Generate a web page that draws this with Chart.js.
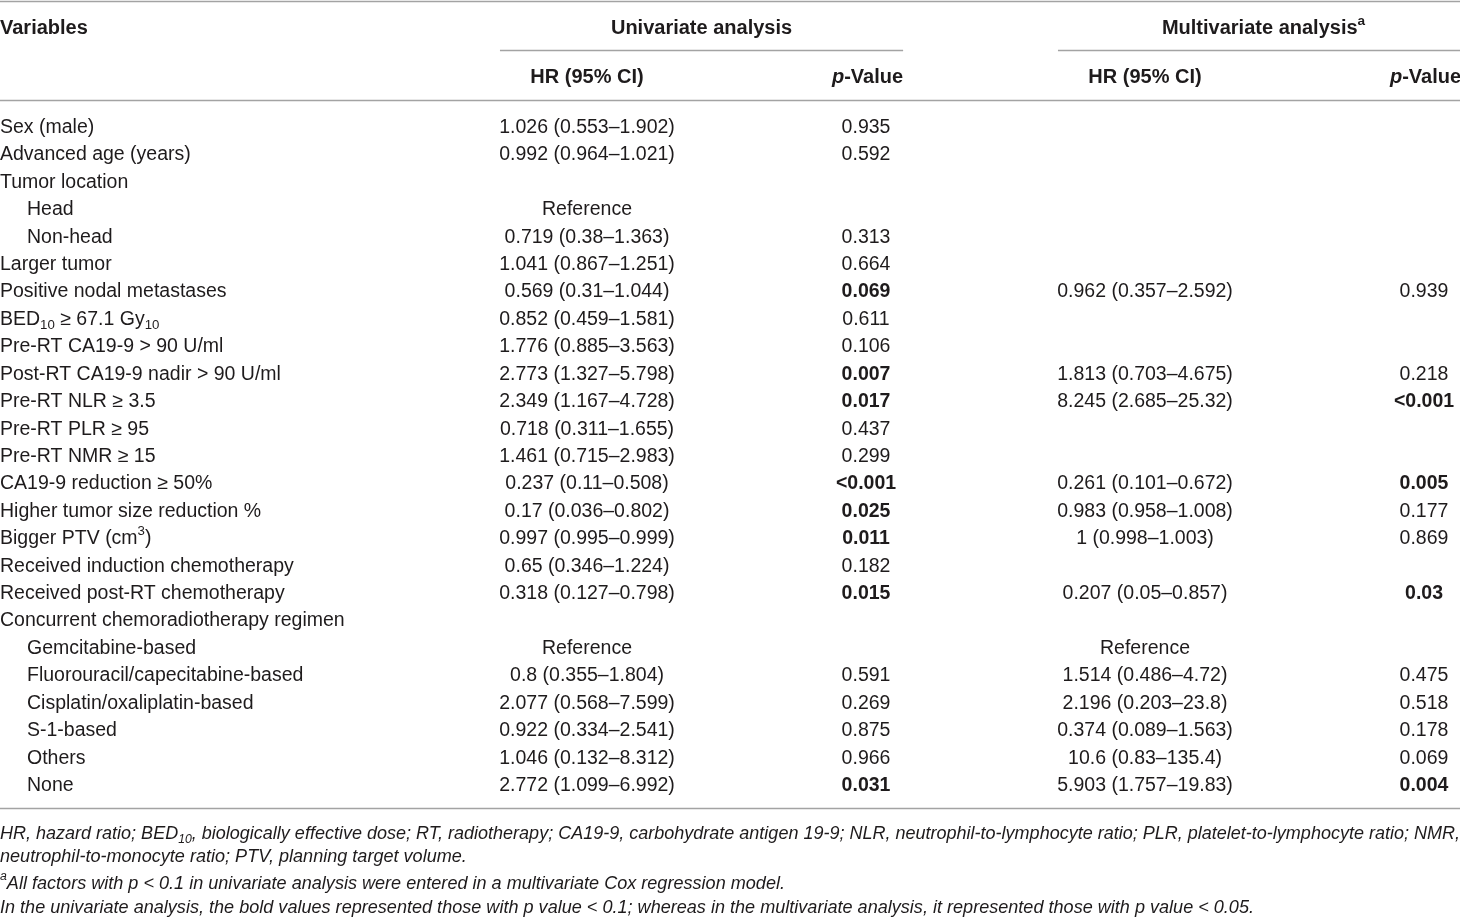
<!DOCTYPE html>
<html>
<head>
<meta charset="utf-8">
<script src="https://cdn.jsdelivr.net/npm/chart.js@4.4.1/dist/chart.umd.min.js"></script>
<style>
  html, body { margin: 0; padding: 0; background: #fff; }
  #wrap { width: 1460px; height: 917px; }
</style>
</head>
<body>
<div id="wrap"><canvas id="tbl" width="1460" height="917"></canvas></div>
<script>
// --- TABLE DATA ---
const variables = [
    'Sex (male)', 'Advanced age (years)', 'Tumor location', 'Head', 'Non-head',
    'Larger tumor', 'Positive nodal metastases', 'BED_{10} ≥ 67.1 Gy_{10}',
    'Pre-RT CA19-9 > 90 U/ml', 'Post-RT CA19-9 nadir > 90 U/ml', 'Pre-RT NLR ≥ 3.5',
    'Pre-RT PLR ≥ 95', 'Pre-RT NMR ≥ 15', 'CA19-9 reduction ≥ 50%',
    'Higher tumor size reduction %', 'Bigger PTV (cm^{3})', 'Received induction chemotherapy',
    'Received post-RT chemotherapy', 'Concurrent chemoradiotherapy regimen',
    'Gemcitabine-based', 'Fluorouracil/capecitabine-based', 'Cisplatin/oxaliplatin-based',
    'S-1-based', 'Others', 'None'
];
const indentedRows = [3, 4, 19, 20, 21, 22, 23, 24];

const uniHR = [
    '1.026 (0.553–1.902)', '0.992 (0.964–1.021)', '', 'Reference', '0.719 (0.38–1.363)',
    '1.041 (0.867–1.251)', '0.569 (0.31–1.044)', '0.852 (0.459–1.581)', '1.776 (0.885–3.563)',
    '2.773 (1.327–5.798)', '2.349 (1.167–4.728)', '0.718 (0.311–1.655)', '1.461 (0.715–2.983)',
    '0.237 (0.11–0.508)', '0.17 (0.036–0.802)', '0.997 (0.995–0.999)', '0.65 (0.346–1.224)',
    '0.318 (0.127–0.798)', '', 'Reference', '0.8 (0.355–1.804)', '2.077 (0.568–7.599)',
    '0.922 (0.334–2.541)', '1.046 (0.132–8.312)', '2.772 (1.099–6.992)'
];
const uniP = [
    '0.935', '0.592', '', '', '0.313', '0.664', '0.069', '0.611', '0.106', '0.007', '0.017',
    '0.437', '0.299', '<0.001', '0.025', '0.011', '0.182', '0.015', '', '', '0.591', '0.269',
    '0.875', '0.966', '0.031'
];
const uniBold = [6, 9, 10, 13, 14, 15, 17, 24];

const multiHR = [
    '', '', '', '', '', '', '0.962 (0.357–2.592)', '', '', '1.813 (0.703–4.675)',
    '8.245 (2.685–25.32)', '', '', '0.261 (0.101–0.672)', '0.983 (0.958–1.008)',
    '1 (0.998–1.003)', '', '0.207 (0.05–0.857)', '', 'Reference', '1.514 (0.486–4.72)',
    '2.196 (0.203–23.8)', '0.374 (0.089–1.563)', '10.6 (0.83–135.4)', '5.903 (1.757–19.83)'
];
const multiP = [
    '', '', '', '', '', '', '0.939', '', '', '0.218', '<0.001', '', '', '0.005', '0.177',
    '0.869', '', '0.03', '', '', '0.475', '0.518', '0.178', '0.069', '0.004'
];
const multiBold = [10, 13, 17, 24];

const groupTitles = ['Univariate analysis', 'Multivariate analysis^{a}'];
const columnTitles = ['HR (95% CI)', '~p~-Value'];

const footnotes = [
    'HR, hazard ratio; BED_{10}, biologically effective dose; RT, radiotherapy; CA19-9, carbohydrate antigen 19-9; NLR, neutrophil-to-lymphocyte ratio; PLR, platelet-to-lymphocyte ratio; NMR,',
    'neutrophil-to-monocyte ratio; PTV, planning target volume.',
    '^{a}All factors with p < 0.1 in univariate analysis were entered in a multivariate Cox regression model.',
    'In the univariate analysis, the bold values represented those with p value < 0.1; whereas in the multivariate analysis, it represented those with p value < 0.05.'
];

// --- LAYOUT (scale units: x = column index, y = row index) ---
const X_MIN = -1.104, X_MAX = 4.129;
const Y_MIN = -4.6, Y_MAX = 28.85;
const Y_GROUP = -3.61, Y_GROUP_RULE = -2.77, Y_HEAD = -1.82, Y_HEAD_RULE = -0.95;
const Y_TOP_RULE = -4.56, Y_BOTTOM_RULE = 24.87;
const Y_NOTES = [25.75, 26.6, 27.57, 28.45];
const FAMILY = '"Liberation Sans", Arial, sans-serif';
const TEXT = '#1e1b1c';
const RULE = '#a3a3a3';
const SIZE = 19.5;
const HEAD_SIZE = 20;
const NUDGE = 1.5; // canvas 'middle' sits a bit high

const cells = (arr, col, bold) => arr
    .map((t, i) => ({ x: col, y: i, t, b: bold ? bold.includes(i) : false }))
    .filter(d => d.t !== '');

// --- RICH TEXT (sub/superscript, italic) ---
const parseRich = (s) => {
    const parts = [];
    const re = /_\{([^}]*)\}|\^\{([^}]*)\}|~([^~]*)~/g;
    let last = 0, m;
    while ((m = re.exec(s))) {
        if (m.index > last) parts.push({ t: s.slice(last, m.index), k: 'n' });
        if (m[1] !== undefined) parts.push({ t: m[1], k: 'sub' });
        else if (m[2] !== undefined) parts.push({ t: m[2], k: 'sup' });
        else parts.push({ t: m[3], k: 'it' });
        last = re.lastIndex;
    }
    if (last < s.length) parts.push({ t: s.slice(last), k: 'n' });
    return parts;
};

const fontOf = (k, base) => {
    const size = (k === 'sub' || k === 'sup') ? base.size * 0.68 : base.size;
    const style = (k === 'it' || base.italic) ? 'italic ' : '';
    return `${style}${base.bold ? 'bold ' : ''}${size}px ${FAMILY}`;
};

const richWidth = (ctx, s, base) => parseRich(s).reduce((w, p) => {
    ctx.font = fontOf(p.k, base);
    return w + ctx.measureText(p.t).width;
}, 0);

const drawRich = (ctx, s, x, y, align, base) => {
    const parts = parseRich(s);
    const w = richWidth(ctx, s, base);
    let cx = align === 'center' ? x - w / 2 : align === 'right' ? x - w : x;
    ctx.textAlign = 'left';
    ctx.textBaseline = 'middle';
    ctx.fillStyle = TEXT;
    parts.forEach(p => {
        ctx.font = fontOf(p.k, base);
        const dy = p.k === 'sub' ? base.size * 0.3 : p.k === 'sup' ? -base.size * 0.36 : 0;
        ctx.fillText(p.t, cx, y + dy + NUDGE);
        cx += ctx.measureText(p.t).width;
    });
};

// --- TABLE PLUGIN ---
const tablePlugin = {
    id: 'tablePlugin',
    beforeDatasetsDraw(chart) {
        const { ctx, chartArea, scales: { x, y } } = chart;
        ctx.save();
        ctx.strokeStyle = RULE;
        ctx.lineWidth = 1.5;
        const hline = (x0, x1, yv) => {
            const py = Math.round(y.getPixelForValue(yv)) + 0.5;
            ctx.beginPath();
            ctx.moveTo(x0, py);
            ctx.lineTo(x1, py);
            ctx.stroke();
        };
        hline(chartArea.left, chartArea.right, Y_TOP_RULE);
        hline(chartArea.left, chartArea.right, Y_HEAD_RULE);
        hline(chartArea.left, chartArea.right, Y_BOTTOM_RULE);
        [1, 3].forEach(c => hline(x.getPixelForValue(c - 0.312), x.getPixelForValue(c + 1.133), Y_GROUP_RULE));
        ctx.restore();
    },
    afterDatasetsDraw(chart) {
        const { ctx, chartArea, scales: { x, y } } = chart;
        ctx.save();
        const bold = { size: HEAD_SIZE, bold: true };

        // headers
        drawRich(ctx, 'Variables', chartArea.left, y.getPixelForValue(Y_GROUP), 'left', bold);
        [1, 3].forEach((c, g) => {
            const mid = (x.getPixelForValue(c - 0.312) + x.getPixelForValue(c + 1.133)) / 2;
            drawRich(ctx, groupTitles[g], mid + (g ? 4 : 0), y.getPixelForValue(Y_GROUP), 'center', bold);
            drawRich(ctx, columnTitles[0], x.getPixelForValue(c), y.getPixelForValue(Y_HEAD), 'center', bold);
            drawRich(ctx, columnTitles[1], x.getPixelForValue(c + 1.133), y.getPixelForValue(Y_HEAD), 'right', bold);
        });

        // body cells
        chart.data.datasets.forEach((ds, i) => {
            const meta = chart.getDatasetMeta(i);
            meta.data.forEach((pt, j) => {
                const d = ds.data[j];
                const px = ds.align === 'left' ? chartArea.left + (indentedRows.includes(d.y) ? 27 : 0) : pt.x;
                drawRich(ctx, d.t, px, pt.y, ds.align, { size: SIZE, bold: d.b });
            });
        });

        // footnotes (condensed italic, first line justified)
        const note = { size: 19, italic: true };
        const sx = 1254 / richWidth(ctx, footnotes[3], note);
        footnotes.forEach((s, k) => {
            const w = richWidth(ctx, s, note);
            const scaleX = k === 0 ? (chartArea.right - chartArea.left) / w : sx;
            ctx.save();
            ctx.translate(chartArea.left, y.getPixelForValue(Y_NOTES[k]));
            ctx.scale(scaleX, 1);
            drawRich(ctx, s, 0, 0, 'left', note);
            ctx.restore();
        });
        ctx.restore();
    }
};

const mkSet = (label, data, align) => ({
    label, data, align, pointRadius: 0, pointHoverRadius: 0, showLine: false
});

new Chart(document.getElementById('tbl'), {
    type: 'scatter',
    data: {
        datasets: [
            mkSet('Variables', variables.map((t, i) => ({ x: X_MIN, y: i, t, b: false })), 'left'),
            mkSet('Univariate HR', cells(uniHR, 1), 'center'),
            mkSet('Univariate p', cells(uniP, 2, uniBold), 'center'),
            mkSet('Multivariate HR', cells(multiHR, 3), 'center'),
            mkSet('Multivariate p', cells(multiP, 4, multiBold), 'center')
        ]
    },
    options: {
        responsive: false,
        animation: false,
        devicePixelRatio: 1,
        layout: { padding: 0 },
        events: [],
        plugins: { legend: { display: false }, tooltip: { enabled: false } },
        scales: {
            x: { type: 'linear', min: X_MIN, max: X_MAX, display: false },
            y: { type: 'linear', min: Y_MIN, max: Y_MAX, reverse: true, display: false }
        }
    },
    plugins: [tablePlugin]
});
</script>
</body>
</html>
